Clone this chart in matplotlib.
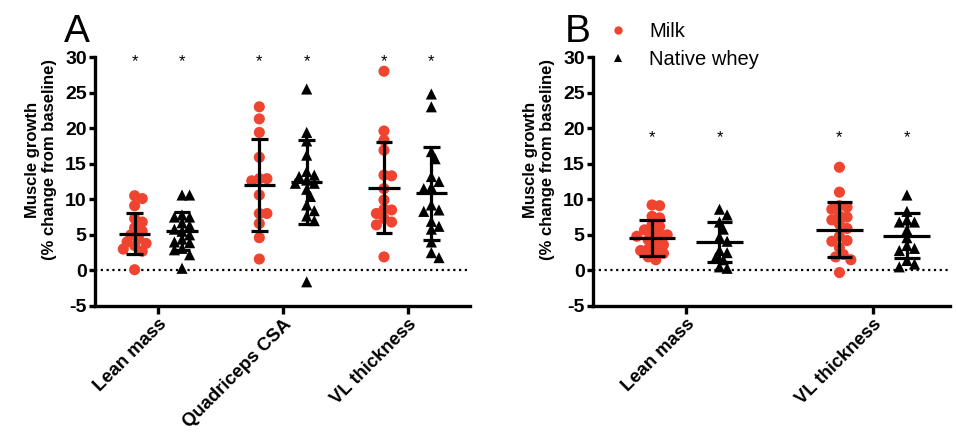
import numpy as np
import matplotlib
matplotlib.use('Agg')
import matplotlib.pyplot as plt
from matplotlib.lines import Line2D

plt.rcParams['font.family'] = ['Liberation Sans', 'DejaVu Sans']
plt.rcParams['axes.unicode_minus'] = False

RED = '#EF4430'

cats_a = ['Lean mass', 'Quadriceps CSA', 'VL thickness']
cats_b = ['Lean mass', 'VL thickness']
series_names = ['Milk', 'Native whey']
yticks = [-5, 0, 5, 10, 15, 20, 25, 30]

# ---- Panel A data (% change from baseline) ----
milk_a = [
    [10.1, 10.5, 9.1, 7.3, 6.8, 6.0, 5.5, 5.0, 4.5, 4.0, 3.8, 3.5, 3.0, 2.7, 0.1],
    [23.0, 21.3, 19.4, 15.9, 12.9, 12.6, 12.9, 10.6, 8.0, 8.0, 6.6, 4.6, 1.6],
    [28.0, 19.6, 18.3, 16.9, 13.4, 13.3, 11.5, 9.9, 8.6, 8.5, 8.0, 7.3, 6.8, 6.4, 1.9],
]
whey_a = [
    [10.6, 10.6, 7.8, 7.5, 7.5, 6.7, 6.3, 5.8, 5.5, 5.0, 4.4, 4.0, 3.9, 3.1, 2.9, 2.2, 0.3],
    [25.5, 19.4, 18.2, 16.2, 13.9, 13.4, 13.2, 12.7, 12.25, 12.25, 11.4, 10.4, 9.2, 8.4, 7.65, 7.0, -1.6],
    [24.8, 23.0, 16.7, 15.7, 13.2, 12.5, 11.7, 11.5, 9.2, 8.5, 8.3, 6.9, 6.2, 5.8, 4.0, 2.5, 1.8],
]
milk_a_mean = [5.16, 12.05, 11.65]
milk_a_sd = [2.9, 6.45, 6.45]
whey_a_mean = [5.54, 12.4, 10.85]
whey_a_sd = [2.7, 5.9, 6.55]

# ---- Panel B data ----
milk_b = [
    [9.1, 9.2, 7.6, 7.4, 6.4, 6.2, 5.7, 5.3, 5.1, 5.0, 4.8, 4.3, 3.8, 3.6, 3.0, 2.8, 2.6, 2.4, 1.9, 1.5],
    [14.5, 11.0, 9.1, 8.9, 8.6, 7.65, 7.5, 7.1, 6.5, 5.9, 4.8, 4.2, 4.1, 3.2, 2.25, 1.9, 1.5, -0.3],
]
whey_b = [
    [8.6, 7.8, 6.8, 5.8, 4.7, 4.1, 2.8, 2.5, 1.8, 1.5, 0.5, 0.3],
    [10.6, 8.3, 7.1, 6.8, 6.8, 5.7, 4.6, 3.5, 3.1, 2.8, 1.4, 0.9, 0.5],
]
milk_b_mean = [4.58, 5.75]
milk_b_sd = [2.5, 3.85]
whey_b_mean = [4.0, 4.9]
whey_b_sd = [2.8, 3.2]

star_y_a = 29.4
star_y_b = 18.7

fig = plt.figure(figsize=(9.56, 4.32), dpi=100)
W, H = 956, 432
FS = 14
FS_X = 13.3
FS_LAB = 12


def make_axes(left_px, right_px, xlim):
    ax = fig.add_axes([left_px / W, (H - 306) / H, (right_px - left_px) / W, (306 - 57) / H])
    ax.set_xlim(*xlim)
    ax.set_ylim(-5, 30)
    for s in ['top', 'right']:
        ax.spines[s].set_visible(False)
    for s in ['left', 'bottom']:
        ax.spines[s].set_linewidth(2.4)
    ax.tick_params(axis='both', width=2.4, length=4.5, labelsize=FS, direction='out', pad=1.5)
    ax.set_yticks(yticks)
    for lab in ax.get_yticklabels():
        lab.set_fontweight('bold')
    ax.axhline(0, color='black', lw=1.6, ls=(0, (1, 1.6)), zorder=1)
    ax.set_ylabel('Muscle growth\n(% change from baseline)', fontsize=FS_LAB,
                  fontweight='bold', linespacing=1.15)
    return ax


def swarm_offsets(ax, vals, d_px):
    trans = ax.transData
    p0 = trans.transform((0, 0))
    p1 = trans.transform((1, 1))
    sx = p1[0] - p0[0]
    sy = p1[1] - p0[1]
    vals = np.asarray(vals, dtype=float)
    order = np.argsort(-vals, kind='stable')
    placed = []
    offs = np.zeros(len(vals))
    step = d_px * 0.5
    cands = [0.0]
    for k in range(1, 12):
        cands += [k * step, -k * step]
    for i in order:
        y = vals[i] * sy
        for c in cands:
            ok = True
            for (px, py) in placed:
                if (px - c) ** 2 + (py - y) ** 2 < (d_px * 0.98) ** 2:
                    ok = False
                    break
            if ok:
                offs[i] = c / sx
                placed.append((c, y))
                break
    return offs


def draw_group(ax, center, vals, mean, sd, marker, color, size, d_px):
    offs = swarm_offsets(ax, vals, d_px)
    ax.scatter(center + offs, vals, marker=marker, s=size, color=color,
               edgecolors='none', zorder=3, clip_on=False)
    ax.plot([center - 0.125, center + 0.125], [mean, mean], color='black', lw=2.3,
            zorder=4, solid_capstyle='butt')
    ax.errorbar([center], [mean], yerr=[sd], fmt='none', ecolor='black',
                elinewidth=2.3, capsize=0, zorder=4)
    for yy in (mean - sd, mean + sd):
        ax.plot([center - 0.068, center + 0.068], [yy, yy], color='black', lw=2.3,
                zorder=4, solid_capstyle='butt')


def setup_xticks(ax, cats):
    ax.set_xticks(range(len(cats)))
    ax.set_xticklabels(cats, rotation=45, ha='right', rotation_mode='anchor',
                       fontweight='bold', fontsize=FS_X)
    ax.tick_params(axis='x', length=6, pad=1)


# Panel A
axA = make_axes(95, 470, (-0.508, 2.5))
setup_xticks(axA, cats_a)
offA = 0.19
for i in range(len(cats_a)):
    draw_group(axA, i - offA, milk_a[i], milk_a_mean[i], milk_a_sd[i], 'o', RED, 64, 7.6)
    draw_group(axA, i + offA, whey_a[i], whey_a_mean[i], whey_a_sd[i], '^', 'black', 64, 7.6)
    for c in (i - offA, i + offA):
        axA.text(c, star_y_a, '*', ha='center', va='center', fontsize=12, clip_on=False)

# Panel B
axB = make_axes(593, 950, (-0.495, 1.41))
setup_xticks(axB, cats_b)
offB = 0.18
for i in range(len(cats_b)):
    draw_group(axB, i - offB, milk_b[i], milk_b_mean[i], milk_b_sd[i], 'o', RED, 64, 7.6)
    draw_group(axB, i + offB, whey_b[i], whey_b_mean[i], whey_b_sd[i], '^', 'black', 64, 7.6)
    for c in (i - offB, i + offB):
        axB.text(c, star_y_b, '*', ha='center', va='center', fontsize=12, clip_on=False)

# y label positions (axes fraction; right edge of rotated label)
axA.yaxis.set_label_coords(-(95 - 57) / 375, (306 - 160) / 249)
axB.yaxis.set_label_coords(-(593 - 555) / 357, (306 - 160) / 249)

# panel letters
fig.text(64 / W, 1 - 42 / H, 'A', fontsize=28, ha='left', va='baseline')
fig.text(565 / W, 1 - 42 / H, 'B', fontsize=28, ha='left', va='baseline')

# legend
handles = [
    Line2D([], [], marker='o', color=RED, ls='none', markersize=6, markeredgewidth=0),
    Line2D([], [], marker='^', color='black', ls='none', markersize=6, markeredgewidth=0),
]
axB.legend(handles, series_names, loc='upper left', bbox_to_anchor=(598 / W, 1 - 22 / H),
           bbox_transform=fig.transFigure, frameon=False, fontsize=14.5,
           handletextpad=0.55, labelspacing=0.45, borderaxespad=0, borderpad=0)

fig.savefig('out.png', dpi=100)
